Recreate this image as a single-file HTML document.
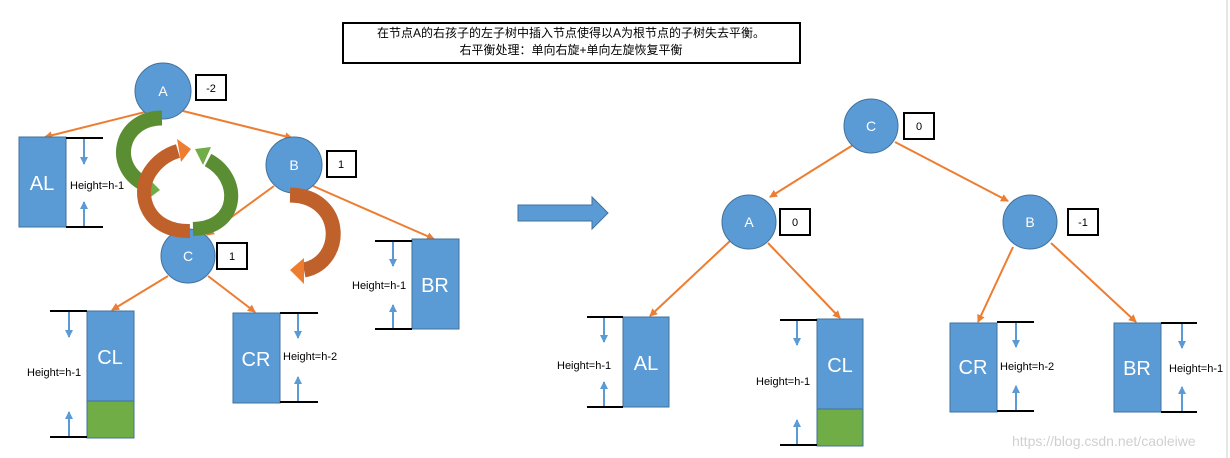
<!DOCTYPE html>
<html><head><meta charset="utf-8"><style>
html,body{margin:0;padding:0;background:#fff;}
svg{display:block;font-family:"Liberation Sans","Noto Sans CJK SC",sans-serif;}
.h{font-size:11px;fill:#000;}
.n{font-size:14px;fill:#fff;}
.b{font-size:20px;fill:#fff;}
.e{stroke:#ED7D31;stroke-width:2;fill:none;marker-end:url(#oa);}
.bl{stroke:#000;stroke-width:2;}
.ar{stroke:#5B9BD5;stroke-width:2;marker-end:url(#ba);}
</style></head><body>
<svg width="1230" height="458" viewBox="0 0 1230 458" xmlns="http://www.w3.org/2000/svg">
<defs>
<marker id="oa" markerWidth="8" markerHeight="8" refX="7" refY="4" orient="auto" markerUnits="userSpaceOnUse"><path d="M0,0 L8,4 L0,8 Z" fill="#ED7D31"/></marker>
<marker id="ba" markerWidth="8" markerHeight="8" refX="7" refY="4" orient="auto" markerUnits="userSpaceOnUse"><path d="M0,0 L8,4 L0,8 Z" fill="#5B9BD5"/></marker>
</defs>
<rect width="1230" height="458" fill="#fff"/>
<line x1="1227" y1="0" x2="1227" y2="458" stroke="#ccc"/>
<!-- title -->
<rect x="343" y="23" width="457" height="40" fill="#fff" stroke="#000" stroke-width="2"/>
<text x="571" y="37" text-anchor="middle" font-size="12">在节点A的右孩子的左子树中插入节点使得以A为根节点的子树失去平衡。</text>
<text x="571" y="54" text-anchor="middle" font-size="12">右平衡处理：单向右旋+单向左旋恢复平衡</text>

<!-- left edges -->
<line class="e" x1="145" y1="112" x2="45" y2="137"/>
<line class="e" x1="183" y1="111" x2="292" y2="138"/>
<line class="e" x1="274" y1="186" x2="207" y2="235"/>
<line class="e" x1="313" y1="186" x2="434" y2="239"/>
<line class="e" x1="168" y1="276" x2="112" y2="310"/>
<line class="e" x1="208" y1="276" x2="255" y2="312"/>

<!-- left nodes -->
<circle cx="163" cy="91" r="28" fill="#5B9BD5" stroke="#41719C"/>
<text class="n" x="163" y="96" text-anchor="middle">A</text>
<rect x="196" y="75" width="30" height="25" fill="#fff" stroke="#000" stroke-width="2"/>
<text x="211" y="92" text-anchor="middle" font-size="11">-2</text>
<circle cx="294" cy="165" r="28" fill="#5B9BD5" stroke="#41719C"/>
<text class="n" x="294" y="170" text-anchor="middle">B</text>
<rect x="327" y="151" width="29" height="26" fill="#fff" stroke="#000" stroke-width="2"/>
<text x="341" y="168" text-anchor="middle" font-size="11">1</text>
<circle cx="188" cy="256" r="27" fill="#5B9BD5" stroke="#41719C"/>
<text class="n" x="188" y="261" text-anchor="middle">C</text>
<rect x="217" y="243" width="30" height="26" fill="#fff" stroke="#000" stroke-width="2"/>
<text x="232" y="260" text-anchor="middle" font-size="11">1</text>

<!-- curved arrows -->
<path d="M162,118 C120,118 108,168 148,186" stroke="#5B8E33" stroke-width="15" fill="none"/>
<path d="M144,174 L160,190 L148,199 Z" fill="#70AD47"/>
<path d="M190,231 C148,232 135,195 150,172 C158,160 168,154 178,151" stroke="#C0612B" stroke-width="14" fill="none"/>
<path d="M177,139 L191,149 L181,162 Z" fill="#ED7D31"/>
<path d="M193,229 C240,228 242,178 208,160" stroke="#5B8E33" stroke-width="14" fill="none"/>
<path d="M195,149 L211,147 L203,165 Z" fill="#70AD47"/>
<path d="M290,195 C345,196 345,262 304,270" stroke="#C0612B" stroke-width="15" fill="none"/>
<path d="M290,270 L304,258 L304,284 Z" fill="#ED7D31"/>

<!-- AL -->
<rect x="19" y="137" width="47" height="90" fill="#5B9BD5" stroke="#41719C"/>
<text class="b" x="42" y="190" text-anchor="middle">AL</text>
<line class="bl" x1="66" y1="138" x2="103" y2="138"/><line class="bl" x1="66" y1="227" x2="103" y2="227"/>
<line class="ar" x1="84" y1="139" x2="84" y2="164"/><line class="ar" x1="84" y1="226" x2="84" y2="202"/>
<text class="h" x="70" y="189">Height=h-1</text>
<!-- BR -->
<rect x="412" y="239" width="47" height="90" fill="#5B9BD5" stroke="#41719C"/>
<text class="b" x="435" y="292" text-anchor="middle">BR</text>
<line class="bl" x1="375" y1="241" x2="412" y2="241"/><line class="bl" x1="375" y1="329" x2="412" y2="329"/>
<line class="ar" x1="393" y1="242" x2="393" y2="266"/><line class="ar" x1="393" y1="328" x2="393" y2="305"/>
<text class="h" x="352" y="289">Height=h-1</text>
<!-- CL -->
<rect x="87" y="311" width="47" height="90" fill="#5B9BD5" stroke="#41719C"/>
<rect x="87" y="401" width="47" height="37" fill="#70AD47" stroke="#41719C"/>
<text class="b" x="110" y="364" text-anchor="middle">CL</text>
<line class="bl" x1="50" y1="311" x2="87" y2="311"/><line class="bl" x1="50" y1="437" x2="87" y2="437"/>
<line class="ar" x1="69" y1="312" x2="69" y2="337"/><line class="ar" x1="69" y1="436" x2="69" y2="412"/>
<text class="h" x="27" y="376">Height=h-1</text>
<!-- CR -->
<rect x="233" y="313" width="47" height="90" fill="#5B9BD5" stroke="#41719C"/>
<text class="b" x="256" y="366" text-anchor="middle">CR</text>
<line class="bl" x1="280" y1="313" x2="318" y2="313"/><line class="bl" x1="280" y1="402" x2="318" y2="402"/>
<line class="ar" x1="298" y1="314" x2="298" y2="338"/><line class="ar" x1="298" y1="401" x2="298" y2="377"/>
<text class="h" x="283" y="360">Height=h-2</text>

<!-- big arrow -->
<path d="M518,205 L592,205 L592,197 L608,213 L592,229 L592,221 L518,221 Z" fill="#5B9BD5" stroke="#41719C"/>

<!-- right edges -->
<line class="e" x1="853" y1="145" x2="770" y2="197"/>
<line class="e" x1="895" y1="142" x2="1008" y2="201"/>
<line class="e" x1="730" y1="241" x2="650" y2="316"/>
<line class="e" x1="768" y1="243" x2="840" y2="318"/>
<line class="e" x1="1013" y1="247" x2="978" y2="322"/>
<line class="e" x1="1051" y1="243" x2="1136" y2="322"/>

<!-- right nodes -->
<circle cx="871" cy="126" r="27" fill="#5B9BD5" stroke="#41719C"/>
<text class="n" x="871" y="131" text-anchor="middle">C</text>
<rect x="904" y="113" width="30" height="26" fill="#fff" stroke="#000" stroke-width="2"/>
<text x="919" y="130" text-anchor="middle" font-size="11">0</text>
<circle cx="749" cy="222" r="27" fill="#5B9BD5" stroke="#41719C"/>
<text class="n" x="749" y="227" text-anchor="middle">A</text>
<rect x="780" y="209" width="30" height="26" fill="#fff" stroke="#000" stroke-width="2"/>
<text x="795" y="226" text-anchor="middle" font-size="11">0</text>
<circle cx="1030" cy="222" r="27" fill="#5B9BD5" stroke="#41719C"/>
<text class="n" x="1030" y="227" text-anchor="middle">B</text>
<rect x="1068" y="209" width="30" height="26" fill="#fff" stroke="#000" stroke-width="2"/>
<text x="1083" y="226" text-anchor="middle" font-size="11">-1</text>

<!-- right AL -->
<rect x="623" y="317" width="46" height="90" fill="#5B9BD5" stroke="#41719C"/>
<text class="b" x="646" y="370" text-anchor="middle">AL</text>
<line class="bl" x1="587" y1="317" x2="623" y2="317"/><line class="bl" x1="587" y1="407" x2="623" y2="407"/>
<line class="ar" x1="604" y1="318" x2="604" y2="342"/><line class="ar" x1="604" y1="406" x2="604" y2="382"/>
<text class="h" x="557" y="369">Height=h-1</text>
<!-- right CL -->
<rect x="817" y="319" width="46" height="90" fill="#5B9BD5" stroke="#41719C"/>
<rect x="817" y="409" width="46" height="37" fill="#70AD47" stroke="#41719C"/>
<text class="b" x="840" y="372" text-anchor="middle">CL</text>
<line class="bl" x1="780" y1="320" x2="817" y2="320"/><line class="bl" x1="780" y1="445" x2="817" y2="445"/>
<line class="ar" x1="797" y1="321" x2="797" y2="345"/><line class="ar" x1="797" y1="444" x2="797" y2="420"/>
<text class="h" x="756" y="385">Height=h-1</text>
<!-- right CR -->
<rect x="950" y="323" width="47" height="89" fill="#5B9BD5" stroke="#41719C"/>
<text class="b" x="973" y="374" text-anchor="middle">CR</text>
<line class="bl" x1="997" y1="322" x2="1034" y2="322"/><line class="bl" x1="997" y1="411" x2="1034" y2="411"/>
<line class="ar" x1="1016" y1="323" x2="1016" y2="347"/><line class="ar" x1="1016" y1="410" x2="1016" y2="386"/>
<text class="h" x="1000" y="370">Height=h-2</text>
<!-- right BR -->
<rect x="1114" y="323" width="47" height="89" fill="#5B9BD5" stroke="#41719C"/>
<text class="b" x="1137" y="375" text-anchor="middle">BR</text>
<line class="bl" x1="1161" y1="323" x2="1197" y2="323"/><line class="bl" x1="1161" y1="412" x2="1197" y2="412"/>
<line class="ar" x1="1182" y1="324" x2="1182" y2="348"/><line class="ar" x1="1182" y1="411" x2="1182" y2="387"/>
<text class="h" x="1169" y="372">Height=h-1</text>

<text x="1012" y="446" font-size="14" fill="#d0d0d0">https://blog.csdn.net/caoleiwe</text>
</svg>
</body></html>
